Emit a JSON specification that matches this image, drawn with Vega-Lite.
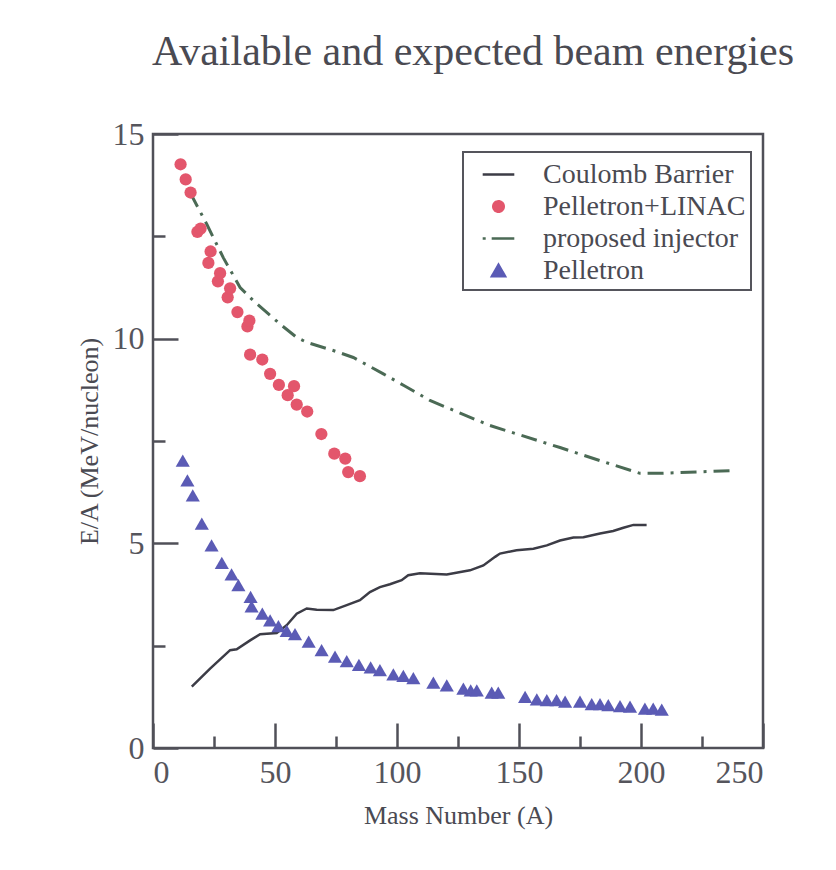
{
  "$schema": "https://vega.github.io/schema/vega-lite/v6.json",
  "width": 610,
  "height": 614,
  "autosize": "none",
  "padding": {"left": 153, "top": 134, "right": 73, "bottom": 122},
  "background": "white",
  "title": {
    "text": "Available and expected beam energies",
    "font": "Liberation Serif",
    "fontSize": 42,
    "fontWeight": "normal",
    "color": "#4a4a52",
    "anchor": "middle",
    "frame": "group",
    "dx": 15,
    "offset": 44
  },
  "config": {
    "view": {"stroke": "#505058", "strokeWidth": 2.5},
    "axis": {
      "domain": false,
      "grid": false,
      "tickColor": "#505058",
      "tickWidth": 2.5,
      "labelFont": "Liberation Serif",
      "labelFontSize": 32,
      "labelColor": "#55555c",
      "titleFont": "Liberation Serif",
      "titleFontSize": 26,
      "titleFontWeight": "normal",
      "titleColor": "#4a4a52"
    },
    "legend": {
      "labelFont": "Liberation Serif",
      "labelFontSize": 28,
      "labelColor": "#4a4a52",
      "labelLimit": 400,
      "strokeColor": "#55555c",
      "strokeWidth": 2,
      "fillColor": "white",
      "padding": 5,
      "symbolSize": 1000,
      "symbolOffset": 13,
      "rowPadding": 0,
      "labelOffset": 27
    }
  },
  "data": {
    "values": [
      {"s": "Coulomb Barrier", "A": 15.9, "E": 1.5},
      {"s": "Coulomb Barrier", "A": 23.4, "E": 1.94},
      {"s": "Coulomb Barrier", "A": 31.6, "E": 2.39},
      {"s": "Coulomb Barrier", "A": 34.3, "E": 2.41},
      {"s": "Coulomb Barrier", "A": 39.8, "E": 2.63},
      {"s": "Coulomb Barrier", "A": 43.9, "E": 2.78},
      {"s": "Coulomb Barrier", "A": 50.7, "E": 2.81},
      {"s": "Coulomb Barrier", "A": 54.8, "E": 3.0},
      {"s": "Coulomb Barrier", "A": 58.9, "E": 3.28},
      {"s": "Coulomb Barrier", "A": 63.0, "E": 3.41},
      {"s": "Coulomb Barrier", "A": 67.1, "E": 3.38},
      {"s": "Coulomb Barrier", "A": 73.9, "E": 3.37},
      {"s": "Coulomb Barrier", "A": 79.4, "E": 3.49},
      {"s": "Coulomb Barrier", "A": 84.8, "E": 3.61},
      {"s": "Coulomb Barrier", "A": 88.9, "E": 3.81},
      {"s": "Coulomb Barrier", "A": 93.0, "E": 3.93},
      {"s": "Coulomb Barrier", "A": 97.1, "E": 4.0},
      {"s": "Coulomb Barrier", "A": 101.9, "E": 4.1},
      {"s": "Coulomb Barrier", "A": 104.6, "E": 4.22},
      {"s": "Coulomb Barrier", "A": 109.4, "E": 4.27},
      {"s": "Coulomb Barrier", "A": 120.4, "E": 4.24},
      {"s": "Coulomb Barrier", "A": 129.9, "E": 4.34},
      {"s": "Coulomb Barrier", "A": 135.4, "E": 4.46},
      {"s": "Coulomb Barrier", "A": 140.2, "E": 4.67},
      {"s": "Coulomb Barrier", "A": 142.2, "E": 4.75},
      {"s": "Coulomb Barrier", "A": 149.0, "E": 4.83},
      {"s": "Coulomb Barrier", "A": 155.9, "E": 4.87},
      {"s": "Coulomb Barrier", "A": 161.4, "E": 4.95},
      {"s": "Coulomb Barrier", "A": 166.8, "E": 5.07},
      {"s": "Coulomb Barrier", "A": 172.3, "E": 5.14},
      {"s": "Coulomb Barrier", "A": 176.4, "E": 5.15},
      {"s": "Coulomb Barrier", "A": 183.2, "E": 5.24},
      {"s": "Coulomb Barrier", "A": 188.6, "E": 5.3},
      {"s": "Coulomb Barrier", "A": 192.8, "E": 5.38},
      {"s": "Coulomb Barrier", "A": 196.9, "E": 5.45},
      {"s": "Coulomb Barrier", "A": 202.3, "E": 5.45},

      {"s": "proposed injector", "A": 15.2, "E": 13.57},
      {"s": "proposed injector", "A": 22.0, "E": 12.8},
      {"s": "proposed injector", "A": 28.8, "E": 11.98},
      {"s": "proposed injector", "A": 35.7, "E": 11.25},
      {"s": "proposed injector", "A": 41.1, "E": 10.93},
      {"s": "proposed injector", "A": 52.0, "E": 10.36},
      {"s": "proposed injector", "A": 58.9, "E": 10.03},
      {"s": "proposed injector", "A": 63.0, "E": 9.91},
      {"s": "proposed injector", "A": 73.9, "E": 9.71},
      {"s": "proposed injector", "A": 82.1, "E": 9.54},
      {"s": "proposed injector", "A": 94.4, "E": 9.14},
      {"s": "proposed injector", "A": 103.0, "E": 8.85},
      {"s": "proposed injector", "A": 113.5, "E": 8.49},
      {"s": "proposed injector", "A": 138.0, "E": 7.88},
      {"s": "proposed injector", "A": 166.8, "E": 7.34},
      {"s": "proposed injector", "A": 183.2, "E": 7.02},
      {"s": "proposed injector", "A": 199.6, "E": 6.71},
      {"s": "proposed injector", "A": 208.0, "E": 6.71},
      {"s": "proposed injector", "A": 238.0, "E": 6.78},

      {"s": "Pelletron+LINAC", "A": 11.3, "E": 14.26},
      {"s": "Pelletron+LINAC", "A": 13.4, "E": 13.89},
      {"s": "Pelletron+LINAC", "A": 15.4, "E": 13.57},
      {"s": "Pelletron+LINAC", "A": 18.2, "E": 12.61},
      {"s": "Pelletron+LINAC", "A": 19.5, "E": 12.69},
      {"s": "Pelletron+LINAC", "A": 22.7, "E": 11.85},
      {"s": "Pelletron+LINAC", "A": 23.6, "E": 12.13},
      {"s": "Pelletron+LINAC", "A": 26.6, "E": 11.4},
      {"s": "Pelletron+LINAC", "A": 27.5, "E": 11.6},
      {"s": "Pelletron+LINAC", "A": 30.6, "E": 11.01},
      {"s": "Pelletron+LINAC", "A": 31.6, "E": 11.23},
      {"s": "Pelletron+LINAC", "A": 34.6, "E": 10.65},
      {"s": "Pelletron+LINAC", "A": 38.7, "E": 10.3},
      {"s": "Pelletron+LINAC", "A": 39.5, "E": 10.44},
      {"s": "Pelletron+LINAC", "A": 39.8, "E": 9.61},
      {"s": "Pelletron+LINAC", "A": 44.8, "E": 9.49},
      {"s": "Pelletron+LINAC", "A": 48.0, "E": 9.14},
      {"s": "Pelletron+LINAC", "A": 51.6, "E": 8.87},
      {"s": "Pelletron+LINAC", "A": 55.2, "E": 8.62},
      {"s": "Pelletron+LINAC", "A": 57.8, "E": 8.84},
      {"s": "Pelletron+LINAC", "A": 58.9, "E": 8.39},
      {"s": "Pelletron+LINAC", "A": 63.2, "E": 8.22},
      {"s": "Pelletron+LINAC", "A": 69.0, "E": 7.67},
      {"s": "Pelletron+LINAC", "A": 74.3, "E": 7.19},
      {"s": "Pelletron+LINAC", "A": 78.8, "E": 7.07},
      {"s": "Pelletron+LINAC", "A": 80.0, "E": 6.74},
      {"s": "Pelletron+LINAC", "A": 84.8, "E": 6.64},

      {"s": "Pelletron", "A": 12.2, "E": 7.02},
      {"s": "Pelletron", "A": 14.1, "E": 6.54},
      {"s": "Pelletron", "A": 16.3, "E": 6.17},
      {"s": "Pelletron", "A": 20.0, "E": 5.48},
      {"s": "Pelletron", "A": 24.0, "E": 4.95},
      {"s": "Pelletron", "A": 28.2, "E": 4.52},
      {"s": "Pelletron", "A": 32.2, "E": 4.24},
      {"s": "Pelletron", "A": 35.0, "E": 3.98},
      {"s": "Pelletron", "A": 40.0, "E": 3.69},
      {"s": "Pelletron", "A": 40.4, "E": 3.46},
      {"s": "Pelletron", "A": 44.8, "E": 3.28},
      {"s": "Pelletron", "A": 48.0, "E": 3.12},
      {"s": "Pelletron", "A": 51.4, "E": 2.98},
      {"s": "Pelletron", "A": 54.8, "E": 2.86},
      {"s": "Pelletron", "A": 58.2, "E": 2.78},
      {"s": "Pelletron", "A": 63.8, "E": 2.6},
      {"s": "Pelletron", "A": 69.1, "E": 2.39},
      {"s": "Pelletron", "A": 74.6, "E": 2.23},
      {"s": "Pelletron", "A": 79.4, "E": 2.12},
      {"s": "Pelletron", "A": 84.4, "E": 2.03},
      {"s": "Pelletron", "A": 89.2, "E": 1.97},
      {"s": "Pelletron", "A": 93.0, "E": 1.9},
      {"s": "Pelletron", "A": 98.5, "E": 1.8},
      {"s": "Pelletron", "A": 102.6, "E": 1.76},
      {"s": "Pelletron", "A": 106.7, "E": 1.71},
      {"s": "Pelletron", "A": 114.9, "E": 1.6},
      {"s": "Pelletron", "A": 120.4, "E": 1.53},
      {"s": "Pelletron", "A": 127.2, "E": 1.45},
      {"s": "Pelletron", "A": 130.2, "E": 1.41},
      {"s": "Pelletron", "A": 132.7, "E": 1.41},
      {"s": "Pelletron", "A": 138.8, "E": 1.35},
      {"s": "Pelletron", "A": 141.5, "E": 1.35},
      {"s": "Pelletron", "A": 152.5, "E": 1.25},
      {"s": "Pelletron", "A": 157.3, "E": 1.19},
      {"s": "Pelletron", "A": 161.4, "E": 1.17},
      {"s": "Pelletron", "A": 165.4, "E": 1.17},
      {"s": "Pelletron", "A": 168.9, "E": 1.13},
      {"s": "Pelletron", "A": 175.0, "E": 1.13},
      {"s": "Pelletron", "A": 179.8, "E": 1.07},
      {"s": "Pelletron", "A": 183.2, "E": 1.07},
      {"s": "Pelletron", "A": 186.6, "E": 1.05},
      {"s": "Pelletron", "A": 191.4, "E": 1.02},
      {"s": "Pelletron", "A": 195.5, "E": 1.01},
      {"s": "Pelletron", "A": 201.6, "E": 0.96},
      {"s": "Pelletron", "A": 205.0, "E": 0.96},
      {"s": "Pelletron", "A": 208.5, "E": 0.94}
    ]
  },
  "encoding": {
    "color": {
      "field": "s",
      "type": "nominal",
      "scale": {
        "domain": ["Coulomb Barrier", "Pelletron+LINAC", "proposed injector", "Pelletron"],
        "range": ["#3c3c46", "#e3566c", "#4b6a55", "#5b5bb5"]
      },
      "legend": {
        "title": null,
        "orient": "none",
        "legendX": 310,
        "legendY": 18,
        "encode": {
          "symbols": {
            "update": {
              "shape": {"signal": "datum.value === 'Pelletron+LINAC' ? 'circle' : datum.value === 'Pelletron' ? 'triangle-up' : 'stroke'"},
              "size": {"signal": "datum.value === 'Pelletron+LINAC' ? 110 : datum.value === 'Pelletron' ? 170 : 1000"},
              "fill": {"signal": "datum.value === 'Pelletron+LINAC' ? '#e3566c' : datum.value === 'Pelletron' ? '#5b5bb5' : 'transparent'"},
              "stroke": {"signal": "datum.value === 'Coulomb Barrier' ? '#3c3c46' : datum.value === 'proposed injector' ? '#4b6a55' : 'transparent'"},
              "strokeWidth": {"value": 2.5},
              "strokeDash": {"signal": "datum.value === 'proposed injector' ? [3, 6, 24, 60] : [1, 0]"},
              "opacity": {"value": 1}
            }
          }
        }
      }
    }
  },
  "layer": [
    {
      "transform": [{"filter": "datum.s === 'Coulomb Barrier'"}],
      "mark": {"type": "line", "strokeWidth": 2.5},
      "encoding": {
        "x": {
          "field": "A",
          "type": "quantitative",
          "scale": {"domain": [0, 250], "nice": false},
          "axis": {"orient": "bottom", "values": [0, 50, 100, 150, 200, 250], "tickSize": -25, "labelPadding": 34, "title": "Mass Number (A)", "titlePadding": 14}
        },
        "y": {
          "field": "E",
          "type": "quantitative",
          "scale": {"domain": [0, 15], "nice": false},
          "axis": {"orient": "left", "values": [0, 5, 10, 15], "tickSize": -25, "labelPadding": 34, "title": "E/A (MeV/nucleon)", "titlePadding": 10}
        }
      }
    },
    {
      "transform": [{"filter": "datum.s === 'proposed injector'"}],
      "mark": {"type": "line", "strokeWidth": 3, "strokeDash": [16, 7, 3, 7]},
      "encoding": {
        "x": {"field": "A", "type": "quantitative", "axis": null},
        "y": {"field": "E", "type": "quantitative", "axis": null}
      }
    },
    {
      "transform": [{"filter": "datum.s === 'Pelletron+LINAC'"}],
      "mark": {"type": "point", "shape": "circle", "filled": true, "opacity": 1, "size": 150},
      "encoding": {
        "x": {"field": "A", "type": "quantitative", "axis": null},
        "y": {"field": "E", "type": "quantitative", "axis": null}
      }
    },
    {
      "transform": [{"filter": "datum.s === 'Pelletron'"}],
      "mark": {"type": "point", "shape": "triangle-up", "filled": true, "opacity": 1, "size": 200},
      "encoding": {
        "x": {
          "field": "A",
          "type": "quantitative",
          "axis": {"orient": "bottom", "values": [25, 75, 125, 175, 225], "tickSize": -12, "labels": false, "title": null}
        },
        "y": {
          "field": "E",
          "type": "quantitative",
          "axis": {"orient": "left", "values": [2.5, 7.5, 12.5], "tickSize": -12, "labels": false, "title": null}
        }
      }
    }
  ],
  "resolve": {"axis": {"x": "independent", "y": "independent"}}
}
